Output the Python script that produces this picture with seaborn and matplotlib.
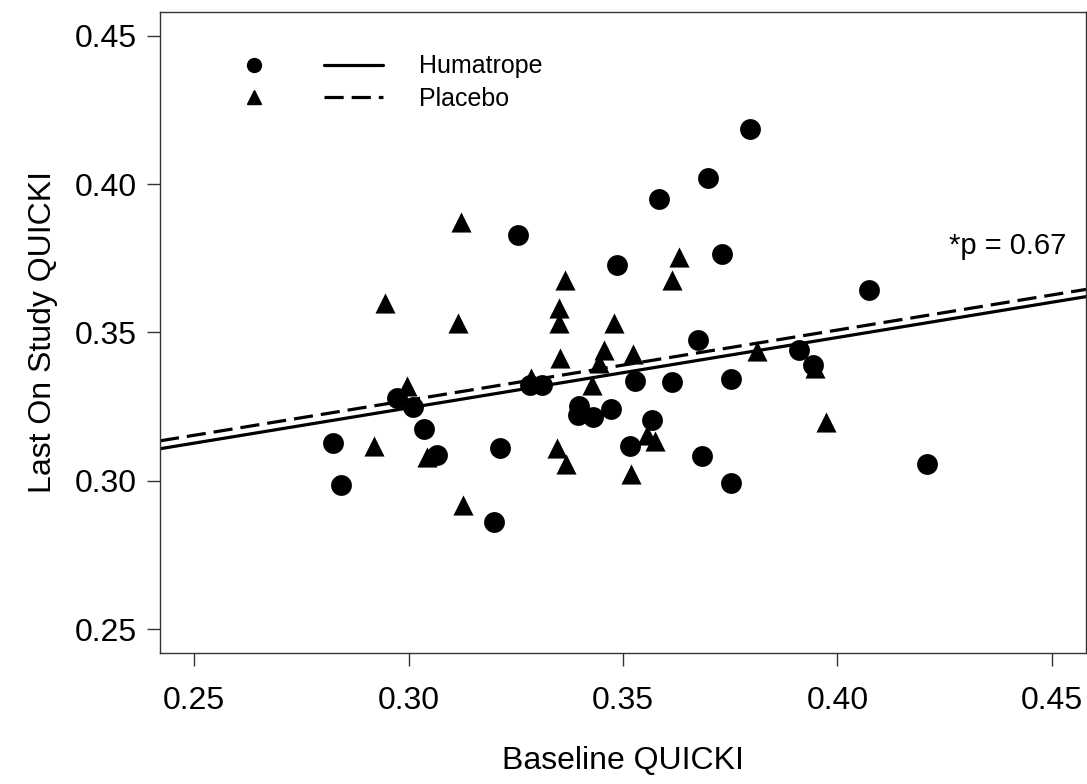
import numpy as np
import pandas as pd
import matplotlib
matplotlib.use('Agg')
import matplotlib.pyplot as plt
import seaborn as sns
from matplotlib.lines import Line2D
from matplotlib.legend_handler import HandlerTuple

# Humatrope (circles)
hum_x = [0.2972, 0.3010, 0.3036, 0.2823, 0.3066, 0.3213, 0.2842, 0.3199,
         0.3283, 0.3310, 0.3797, 0.3698, 0.3585, 0.3256, 0.3732, 0.3485,
         0.3676, 0.3911, 0.3942, 0.3528, 0.3614, 0.3753, 0.3398, 0.3396,
         0.3431, 0.3472, 0.3568, 0.3516, 0.3685, 0.3751, 0.4073, 0.4210]
hum_y = [0.3279, 0.3248, 0.3174, 0.3127, 0.3088, 0.3110, 0.2987, 0.2860,
         0.3323, 0.3323, 0.4187, 0.4021, 0.3949, 0.3830, 0.3765, 0.3727,
         0.3475, 0.3441, 0.3391, 0.3338, 0.3334, 0.3343, 0.3253, 0.3222,
         0.3215, 0.3242, 0.3206, 0.3116, 0.3084, 0.2993, 0.3643, 0.3058]

# Placebo (triangles)
pla_x = [0.2945, 0.3115, 0.2996, 0.2920, 0.3042, 0.3126, 0.3286, 0.3631,
         0.3365, 0.3615, 0.3350, 0.3350, 0.3478, 0.3353, 0.3456, 0.3445,
         0.3524, 0.3812, 0.3948, 0.3427, 0.3973, 0.3555, 0.3575, 0.3345,
         0.3367, 0.3519, 0.3122]
pla_y = [0.3600, 0.3533, 0.3320, 0.3116, 0.3082, 0.2920, 0.3345, 0.3755,
         0.3677, 0.3677, 0.3581, 0.3533, 0.3533, 0.3413, 0.3441, 0.3396,
         0.3428, 0.3439, 0.3380, 0.3323, 0.3197, 0.3155, 0.3133, 0.3110,
         0.3058, 0.3024, 0.3872]

# fitted lines (intercept, slope)
groups = ['Humatrope', 'Placebo']
intercepts = [0.2534, 0.2563]
slopes = [0.2373, 0.2363]
line_styles = ['-', (0, (6, 2.5))]

ticks = [0.25, 0.30, 0.35, 0.40, 0.45]
p_text = '*p = 0.67'

df = pd.DataFrame({
    'baseline': hum_x + pla_x,
    'last': hum_y + pla_y,
    'group': ['Humatrope'] * len(hum_x) + ['Placebo'] * len(pla_x),
})

sns.set_style('ticks')
plt.rcParams['font.family'] = ['Liberation Sans', 'DejaVu Sans']
plt.rcParams['text.color'] = 'black'
plt.rcParams['axes.labelcolor'] = 'black'
plt.rcParams['xtick.color'] = 'black'
plt.rcParams['ytick.color'] = 'black'

fig = plt.figure(figsize=(10.87, 7.84), dpi=100)
ax = fig.add_axes([0.1472, 0.1671, 0.8519, 0.8176])

sns.scatterplot(data=df[df['group'] == 'Humatrope'], x='baseline', y='last',
                marker='o', color='black', s=225, linewidth=0, ax=ax, legend=False)
sns.scatterplot(data=df[df['group'] == 'Placebo'], x='baseline', y='last',
                marker='^', color='black', s=210, linewidth=0, ax=ax, legend=False)

for b, m, ls in zip(intercepts, slopes, line_styles):
    ax.axline((0, b), slope=m, color='black', lw=2.3, linestyle=ls)

ax.set_xlim(0.242, 0.458)
ax.set_ylim(0.242, 0.458)
ax.set_xticks(ticks)
ax.set_yticks(ticks)
ax.set_xticklabels([f'{t:.2f}' for t in ticks])
ax.set_yticklabels([f'{t:.2f}' for t in ticks])
ax.tick_params(axis='both', labelsize=23, length=9.5, width=1, color='#333333',
               labelcolor='black')
ax.tick_params(axis='x', pad=14)
ax.tick_params(axis='y', pad=7)
for sp in ax.spines.values():
    sp.set_visible(True)
    sp.set_color('#333333')
    sp.set_linewidth(1)

ax.set_xlabel('Baseline QUICKI', fontsize=23, labelpad=22)
ax.set_ylabel('Last On Study QUICKI', fontsize=23, labelpad=12)

ax.text(0.4535, 0.3791, p_text, fontsize=21, ha='right', va='center')

handles = [
    (Line2D([], [], marker='o', color='black', ls='none', markersize=10),
     Line2D([], [], color='black', lw=2.3, ls=line_styles[0])),
    (Line2D([], [], marker='^', color='black', ls='none', markersize=10),
     Line2D([], [], color='black', lw=2.3, ls=line_styles[1])),
]
ax.legend(handles, groups, handler_map={tuple: HandlerTuple(ndivide=None, pad=1.6)},
          loc='upper left', bbox_to_anchor=(0.046, 0.969), frameon=False,
          fontsize=18, handlelength=6.3, handletextpad=1.44, labelspacing=0.35)

fig.savefig('out.png', dpi=100)
